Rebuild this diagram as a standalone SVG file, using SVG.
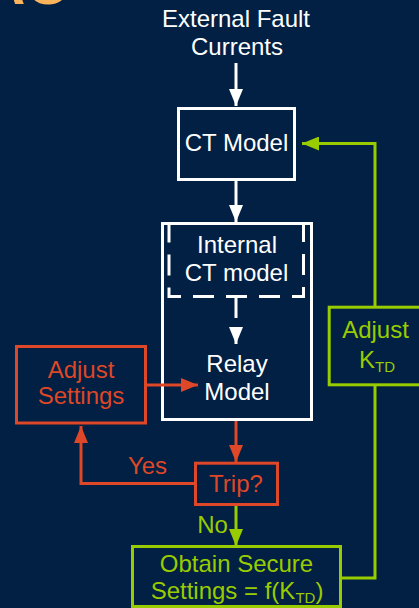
<svg xmlns="http://www.w3.org/2000/svg" width="419" height="608" viewBox="0 0 419 608">
  <defs>
    <style>
      text { font-family: "Liberation Sans", Arial, sans-serif; font-size: 24px; text-anchor: middle; }
      .w { fill: #FFFFFF; }
      .r { fill: #DE4727; }
      .g { fill: #99CC00; }
      .box { fill: none; stroke-width: 3; }
      .bw { stroke: #FFFFFF; }
      .br { stroke: #DE4727; }
      .bg { stroke: #99CC00; }
      .ln { fill: none; stroke-width: 3; }
      .sub { font-size: 15px; }
    </style>
    <marker id="arrW" markerUnits="userSpaceOnUse" markerWidth="18" markerHeight="14" refX="17" refY="7" orient="auto">
      <path d="M0,0 L17,7 L0,14 Z" fill="#FFFFFF"/>
    </marker>
    <marker id="arrR" markerUnits="userSpaceOnUse" markerWidth="18" markerHeight="14" refX="17" refY="7" orient="auto">
      <path d="M0,0 L17,7 L0,14 Z" fill="#DE4727"/>
    </marker>
    <marker id="arrG" markerUnits="userSpaceOnUse" markerWidth="18" markerHeight="14" refX="17" refY="7" orient="auto">
      <path d="M0,0 L17,7 L0,14 Z" fill="#99CC00"/>
    </marker>
  </defs>

  <!-- background -->
  <rect x="0" y="0" width="419" height="608" fill="#012043"/>

  <!-- title lettering, clipped by the top edge -->
  <text x="-18" y="4" style="font-size:60px;font-weight:bold;text-anchor:start;fill:#FBB45C">AC</text>

  <g id="input">
    <text class="w" x="236" y="27">External Fault</text>
    <text class="w" x="237" y="55">Currents</text>
  </g>

  <g id="ct-model">
    <rect class="box bw" x="178.5" y="108.5" width="116" height="71"/>
    <text class="w" x="236.5" y="151">CT Model</text>
  </g>

  <g id="relay-block">
    <rect class="box bw" x="162.5" y="223.5" width="149" height="196"/>
  </g>

  <g id="internal-ct">
    <rect class="box bw" x="169" y="223.5" width="134.5" height="73" stroke-dasharray="21 12"/>
    <text class="w" x="237" y="253">Internal</text>
    <text class="w" x="236.5" y="281">CT model</text>
  </g>

  <g id="relay-model">
    <text class="w" x="237" y="372">Relay</text>
    <text class="w" x="237" y="400">Model</text>
  </g>

  <g id="adjust-settings">
    <rect class="box br" x="16.5" y="346.5" width="129" height="76.5"/>
    <text class="r" x="81" y="378">Adjust</text>
    <text class="r" x="81" y="404">Settings</text>
  </g>

  <g id="trip">
    <rect class="box br" x="195.5" y="463.2" width="82" height="41.3"/>
    <text class="r" x="236" y="492">Trip?</text>
  </g>

  <g id="secure-settings">
    <rect class="box bg" x="132.5" y="546.5" width="208" height="60"/>
    <text class="g" x="236.5" y="572">Obtain Secure</text>
    <text class="g" x="237" y="599">Settings = f(K<tspan class="sub" dy="3.5">TD</tspan><tspan dy="-3.5">)</tspan></text>
  </g>

  <g id="adjust-ktd">
    <rect class="box bg" x="329.2" y="307.2" width="100" height="77.6"/>
    <text class="g" x="375.5" y="338">Adjust</text>
    <text class="g" x="377" y="368">K<tspan class="sub" dy="3.5">TD</tspan></text>
  </g>

  <g id="connectors">
    <path class="ln bw" d="M236,63 V106" marker-end="url(#arrW)"/>
    <path class="ln bw" d="M236,181 V222" marker-end="url(#arrW)"/>
    <path class="ln bw" d="M236,297 V344" stroke-dasharray="21 12" marker-end="url(#arrW)"/>
    <path class="ln br" d="M147,385 H198" marker-end="url(#arrR)"/>
    <path class="ln br" d="M236,421 V462" marker-end="url(#arrR)"/>
    <path class="ln br" d="M194,483.5 H81 V426" marker-end="url(#arrR)"/>
    <text class="r" x="147.5" y="474">Yes</text>
    <path class="ln bg" d="M236,506 V546" marker-end="url(#arrG)"/>
    <text class="g" x="212.5" y="533">No</text>
    <path class="ln bg" d="M342,578 H375 V386"/>
    <path class="ln bg" d="M375,306 V143.5 H302" marker-end="url(#arrG)"/>
  </g>
</svg>
